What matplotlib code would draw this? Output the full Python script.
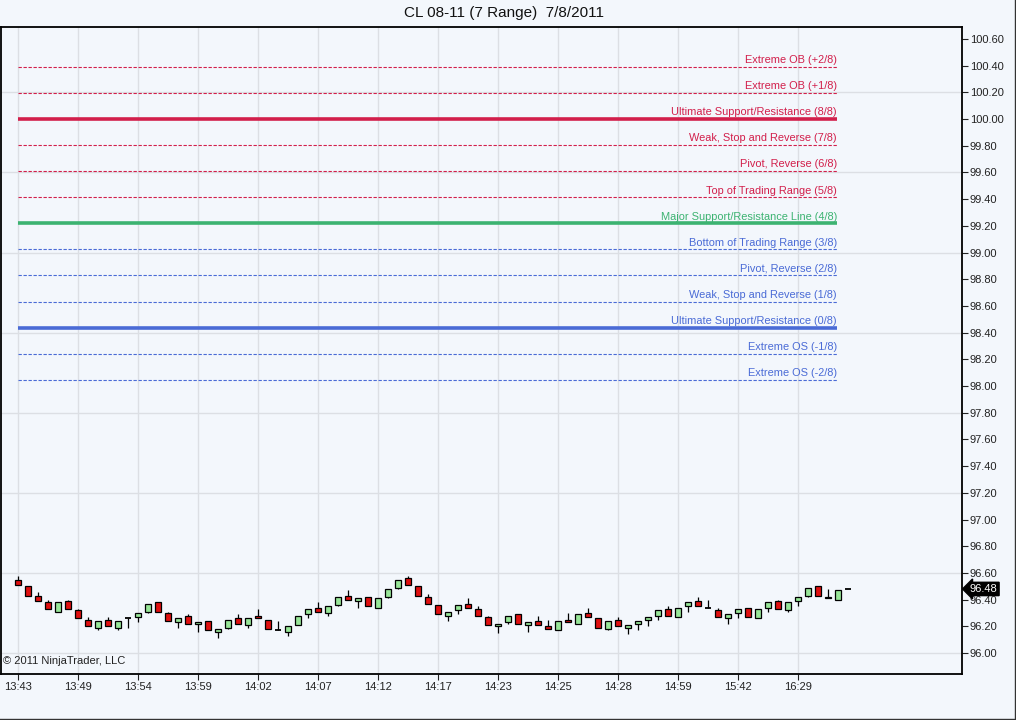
import numpy as np
import matplotlib.pyplot as plt
from matplotlib import transforms
from matplotlib.lines import Line2D

plt.rcParams['font.family'] = ['Liberation Sans', 'DejaVu Sans']

# 7-tick range bars, CL 08-11
opens = [96.55, 96.50, 96.43, 96.38, 96.31, 96.39, 96.32, 96.25, 96.19, 96.25,
         96.19, 96.26, 96.27, 96.31, 96.38, 96.30, 96.23, 96.28, 96.22, 96.24,
         96.16, 96.19, 96.26, 96.21, 96.28, 96.25, 96.17, 96.16, 96.21, 96.29,
         96.34, 96.30, 96.36, 96.43, 96.39, 96.42, 96.34, 96.42, 96.49, 96.56,
         96.50, 96.42, 96.36, 96.28, 96.32, 96.37, 96.33, 96.27, 96.20, 96.23,
         96.29, 96.21, 96.24, 96.20, 96.17, 96.25, 96.22, 96.30, 96.26, 96.18,
         96.25, 96.19, 96.22, 96.25, 96.28, 96.33, 96.27, 96.35, 96.39, 96.34,
         96.32, 96.26, 96.30, 96.34, 96.26, 96.34, 96.39, 96.32, 96.39, 96.43,
         96.50, 96.42, 96.40, 96.48]
highs = [96.58, 96.50, 96.46, 96.40, 96.38, 96.40, 96.33, 96.27, 96.24, 96.27,
         96.24, 96.26, 96.30, 96.37, 96.38, 96.31, 96.26, 96.29, 96.23, 96.24,
         96.18, 96.25, 96.29, 96.26, 96.33, 96.25, 96.24, 96.20, 96.28, 96.33,
         96.38, 96.35, 96.42, 96.47, 96.41, 96.42, 96.41, 96.48, 96.55, 96.58,
         96.50, 96.44, 96.36, 96.31, 96.36, 96.41, 96.35, 96.28, 96.22, 96.28,
         96.29, 96.23, 96.28, 96.25, 96.24, 96.30, 96.29, 96.34, 96.26, 96.24,
         96.27, 96.21, 96.24, 96.27, 96.32, 96.35, 96.34, 96.38, 96.42, 96.40,
         96.34, 96.29, 96.33, 96.34, 96.33, 96.38, 96.40, 96.38, 96.42, 96.49,
         96.50, 96.48, 96.47, 96.48]
lows = [96.51, 96.43, 96.39, 96.33, 96.31, 96.33, 96.26, 96.20, 96.17, 96.20,
        96.17, 96.19, 96.23, 96.30, 96.31, 96.24, 96.19, 96.22, 96.16, 96.17,
        96.11, 96.18, 96.22, 96.19, 96.26, 96.18, 96.17, 96.13, 96.21, 96.26,
        96.31, 96.28, 96.35, 96.40, 96.34, 96.35, 96.34, 96.41, 96.48, 96.51,
        96.43, 96.37, 96.29, 96.24, 96.29, 96.34, 96.28, 96.21, 96.15, 96.22,
        96.22, 96.16, 96.21, 96.18, 96.17, 96.23, 96.22, 96.27, 96.19, 96.17,
        96.20, 96.14, 96.17, 96.20, 96.25, 96.28, 96.27, 96.31, 96.35, 96.34,
        96.27, 96.22, 96.26, 96.27, 96.26, 96.31, 96.33, 96.31, 96.35, 96.42,
        96.43, 96.41, 96.40, 96.48]
closes = [96.51, 96.43, 96.39, 96.33, 96.38, 96.33, 96.26, 96.20, 96.24, 96.20,
          96.24, 96.26, 96.30, 96.37, 96.31, 96.24, 96.26, 96.22, 96.23, 96.17,
          96.18, 96.25, 96.22, 96.26, 96.26, 96.18, 96.17, 96.20, 96.28, 96.33,
          96.31, 96.35, 96.42, 96.40, 96.41, 96.35, 96.41, 96.48, 96.55, 96.51,
          96.43, 96.37, 96.29, 96.31, 96.36, 96.34, 96.28, 96.21, 96.22, 96.28,
          96.22, 96.23, 96.21, 96.18, 96.24, 96.23, 96.29, 96.27, 96.19, 96.24,
          96.20, 96.21, 96.24, 96.27, 96.32, 96.28, 96.34, 96.38, 96.35, 96.34,
          96.27, 96.29, 96.33, 96.27, 96.33, 96.38, 96.33, 96.38, 96.42, 96.49,
          96.43, 96.41, 96.47, 96.48]

tick_labels = ["13:43", "13:49", "13:54", "13:59", "14:02", "14:07", "14:12",
               "14:17", "14:23", "14:25", "14:28", "14:59", "15:42", "16:29"]

# Murrey math lines
mm_base = 98.4375
mm_step = 0.1953125
mm_eighths = [-2, -1, 0, 1, 2, 3, 4, 5, 6, 7, 8, 9, 10]
mm_names = ["Extreme OS (-2/8)", "Extreme OS (-1/8)", "Ultimate Support/Resistance (0/8)",
            "Weak, Stop and Reverse (1/8)", "Pivot, Reverse (2/8)",
            "Bottom of Trading Range (3/8)", "Major Support/Resistance Line (4/8)",
            "Top of Trading Range (5/8)", "Pivot, Reverse (6/8)",
            "Weak, Stop and Reverse (7/8)", "Ultimate Support/Resistance (8/8)",
            "Extreme OB (+1/8)", "Extreme OB (+2/8)"]

bg = '#f3f7fc'
fig = plt.figure(figsize=(10.16, 7.2), dpi=100, facecolor=bg)
ax = fig.add_axes([1 / 1016, 46 / 720, 961 / 1016, 647 / 720])
ax.set_facecolor(bg)

n = len(opens)
x = np.arange(n)
o = np.array(opens)
h = np.array(highs)
l = np.array(lows)
c = np.array(closes)

ax.set_xlim(-1.7, 94.4)
ax.set_ylim(95.843, 100.689)

# grid
for gy in np.arange(96.0, 100.7, 0.6):
    ax.axhline(gy, color='#dcdfe4', lw=1, zorder=0)
for gx in range(0, n, 6):
    ax.axvline(gx, color='#dcdfe4', lw=1, zorder=0)

# murrey lines
line_end = 81.9
for k, name in zip(mm_eighths, mm_names):
    lvl = mm_base + k * mm_step
    if k == 4:
        col = '#3cb371'
    elif k >= 5:
        col = '#d21f4b'
    else:
        col = '#4a6bd6'
    if k in (0, 4, 8):
        ax.hlines(lvl, 0, line_end, color=col, lw=2.6, zorder=2)
    else:
        ax.hlines(lvl, 0, line_end, color=col, lw=0.8, linestyles=(0, (3, 1.5)), zorder=2)
    ax.annotate(name, (line_end, lvl), xytext=(0, 1.2), textcoords='offset points',
                ha='right', va='bottom', fontsize=7.9, color=col)

# candles
up = c > o
dn = c < o
doji = c == o
ax.vlines(x, l, h, color='black', lw=0.9, zorder=3)
ax.bar(x[up], (c - o)[up], bottom=o[up], width=0.6,
       color='#98e698', edgecolor='black', lw=0.9, zorder=4)
ax.bar(x[dn], (o - c)[dn], bottom=c[dn], width=0.6,
       color='#e01010', edgecolor='black', lw=0.9, zorder=4)
ax.hlines(c[doji], x[doji] - 0.3, x[doji] + 0.3, color='black', lw=1.3, zorder=4)

# axes
ax.yaxis.tick_right()
ax.set_yticks(np.round(np.arange(96.0, 100.61, 0.2), 2))
ax.set_yticklabels([f"{v:.2f}" for v in np.arange(96.0, 100.61, 0.2)])
ax.set_xticks(np.arange(0, n, 6)[:len(tick_labels)])
ax.set_xticklabels(tick_labels)
ax.tick_params(axis='both', labelsize=8, colors='#222222', length=4, width=0.8, pad=1.5)
for s in ax.spines.values():
    s.set_linewidth(1.3)
    s.set_color('black')

# last price marker
trans = transforms.blended_transform_factory(ax.transAxes, ax.transData)
ax.text(1.008, c[-1], f"{c[-1]:.2f}", transform=trans, ha='left', va='center',
        fontsize=8, color='white', zorder=6,
        bbox=dict(boxstyle='larrow,pad=0.15', fc='black', ec='black'))

ax.text(0.002, 0.012, "© 2011 NinjaTrader, LLC", transform=ax.transAxes,
        fontsize=8, color='#222222', ha='left', va='bottom')

fig.text(504 / 1016, 1 - 13 / 720, "CL 08-11 (7 Range)  7/8/2011", ha='center',
         va='center', fontsize=11, color='#111111')

# outer window edge (right and bottom)
fig.add_artist(Line2D([0, 1], [0.7 / 720, 0.7 / 720], transform=fig.transFigure,
                      color='#333333', lw=1))
fig.add_artist(Line2D([1 - 1.2 / 1016, 1 - 1.2 / 1016], [0, 1], transform=fig.transFigure,
                      color='#333333', lw=1))

fig.savefig('out.png', dpi=100, facecolor=bg)
